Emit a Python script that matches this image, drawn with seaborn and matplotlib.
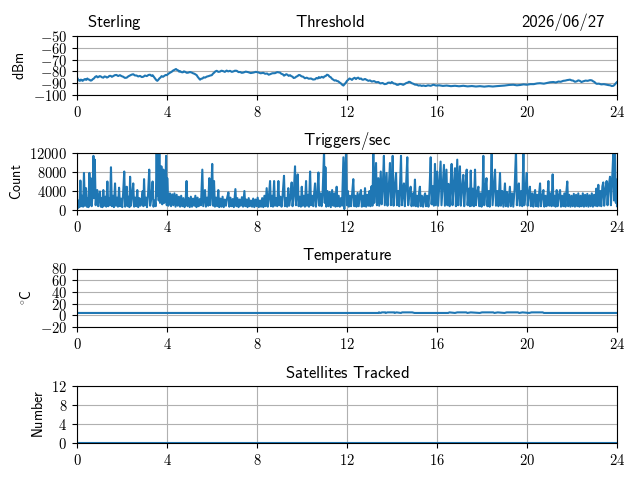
import matplotlib
matplotlib.use("Agg")
import os
import matplotlib.pyplot as plt
from matplotlib.ticker import FuncFormatter, FixedLocator
from matplotlib.font_manager import FontProperties
import seaborn as sns
import pandas as pd

# ---------------- data ----------------
station_name = "Sterling"
date_label = "2026/06/27"
hour_ticks = [0, 4, 8, 12, 16, 20, 24]

threshold_ticks = [-100, -90, -80, -70, -60, -50]
threshold_samples = [
    (0.00, -85.0), (0.03, -86.2), (0.06, -87.0), (0.10, -87.8), (0.13, -88.0), (0.17, -87.0),
    (0.20, -87.2), (0.24, -88.0), (0.28, -87.6), (0.32, -86.8), (0.36, -86.5), (0.41, -87.2),
    (0.46, -86.0), (0.50, -86.8), (0.55, -87.0), (0.60, -87.8), (0.65, -87.6), (0.70, -86.6),
    (0.75, -86.0), (0.81, -84.6), (0.87, -84.0), (0.91, -85.0), (0.95, -84.8), (1.00, -84.0),
    (1.05, -84.2), (1.11, -85.0), (1.17, -85.3), (1.22, -84.3), (1.28, -84.5), (1.33, -85.2),
    (1.39, -84.7), (1.44, -83.8), (1.50, -83.8), (1.55, -84.6), (1.61, -84.0), (1.68, -83.2),
    (1.75, -83.0), (1.83, -83.9), (1.91, -83.2), (1.98, -84.0), (2.05, -84.5), (2.13, -85.5),
    (2.21, -85.3), (2.28, -84.2), (2.35, -83.5), (2.42, -82.8), (2.50, -82.4), (2.57, -83.4),
    (2.65, -83.5), (2.72, -84.3), (2.80, -83.8), (2.88, -84.8), (2.95, -84.5), (3.02, -83.5),
    (3.10, -84.0), (3.18, -83.0), (3.25, -82.8), (3.31, -83.8), (3.36, -83.2), (3.42, -84.8),
    (3.47, -86.0), (3.52, -87.3), (3.57, -88.0), (3.62, -87.0), (3.66, -86.0), (3.71, -85.2),
    (3.76, -84.0), (3.82, -84.6), (3.88, -83.8), (3.94, -83.0), (3.99, -83.2), (4.05, -82.2),
    (4.10, -81.5), (4.16, -80.8), (4.21, -80.3), (4.26, -79.4), (4.30, -79.0), (4.35, -78.4),
    (4.40, -78.0), (4.45, -78.8), (4.50, -79.2), (4.54, -80.2), (4.58, -79.8), (4.64, -80.6),
    (4.70, -80.8), (4.75, -80.0), (4.80, -80.3), (4.88, -81.2), (4.95, -81.0), (5.02, -80.5),
    (5.10, -81.0), (5.16, -81.6), (5.22, -82.0), (5.27, -82.6), (5.32, -83.2), (5.36, -84.5),
    (5.40, -85.5), (5.44, -86.4), (5.47, -87.0), (5.52, -86.2), (5.58, -86.0), (5.63, -85.0),
    (5.69, -85.3), (5.77, -84.4), (5.85, -84.0), (5.92, -83.5), (5.99, -83.2), (6.05, -81.8),
    (6.10, -81.0), (6.15, -80.0), (6.21, -79.5), (6.28, -80.4), (6.35, -80.2), (6.42, -79.4),
    (6.50, -79.8), (6.57, -80.4), (6.65, -79.3), (6.72, -80.0), (6.80, -79.5), (6.88, -80.4),
    (6.95, -80.0), (7.02, -79.4), (7.10, -79.5), (7.18, -80.6), (7.25, -80.5), (7.32, -81.2),
    (7.39, -81.0), (7.50, -80.2), (7.60, -80.6), (7.72, -81.4), (7.84, -81.0), (7.95, -80.4),
    (8.05, -80.8), (8.16, -81.6), (8.28, -81.2), (8.36, -82.0), (8.45, -81.8), (8.52, -82.8),
    (8.58, -82.4), (8.68, -81.6), (8.80, -81.5), (8.90, -80.6), (9.02, -81.0), (9.08, -82.0),
    (9.15, -82.5), (9.20, -83.6), (9.24, -83.2), (9.30, -82.4), (9.35, -82.8), (9.41, -83.8),
    (9.47, -83.2), (9.52, -84.0), (9.58, -84.5), (9.63, -85.6), (9.69, -85.3), (9.75, -84.4),
    (9.80, -84.0), (9.86, -83.0), (9.91, -83.2), (9.98, -84.2), (10.05, -84.5), (10.13, -85.8),
    (10.21, -85.3), (10.30, -86.2), (10.40, -86.0), (10.49, -86.9), (10.58, -86.7), (10.64, -85.6),
    (10.70, -86.0), (10.75, -84.8), (10.80, -85.5), (10.88, -84.6), (10.95, -85.3), (11.00, -84.2),
    (11.05, -84.0), (11.11, -82.8), (11.17, -83.2), (11.22, -84.4), (11.28, -85.0), (11.33, -86.2),
    (11.39, -87.0), (11.45, -87.8), (11.50, -87.5), (11.56, -88.2), (11.61, -88.4), (11.67, -89.4),
    (11.72, -90.0), (11.78, -91.2), (11.84, -92.0), (11.90, -90.6), (11.95, -89.5), (12.00, -88.0),
    (12.06, -87.0), (12.11, -86.0), (12.17, -86.5), (12.22, -87.2), (12.28, -86.0), (12.34, -85.4),
    (12.40, -86.5), (12.45, -85.6), (12.50, -85.3), (12.56, -86.4), (12.62, -86.0), (12.68, -87.0),
    (12.73, -87.0), (12.80, -86.4), (12.88, -87.2), (12.95, -88.0), (13.02, -87.6), (13.10, -88.6),
    (13.20, -88.2), (13.30, -89.2), (13.39, -89.0), (13.48, -90.2), (13.58, -89.8), (13.67, -90.8),
    (13.76, -90.5), (13.82, -89.6), (13.88, -89.5), (13.94, -90.0), (13.99, -89.0), (14.07, -90.2),
    (14.15, -90.5), (14.22, -91.4), (14.28, -91.3), (14.35, -90.6), (14.42, -90.8), (14.50, -91.4),
    (14.58, -90.5), (14.64, -89.8), (14.70, -89.5), (14.75, -88.8), (14.80, -89.0), (14.88, -90.0),
    (14.95, -90.5), (15.02, -91.2), (15.10, -91.3), (15.18, -92.0), (15.25, -91.8), (15.32, -92.3),
    (15.39, -92.0), (15.50, -92.4), (15.60, -91.8), (15.72, -92.2), (15.84, -91.3), (15.96, -92.0),
    (16.10, -91.8), (16.26, -92.3), (16.43, -92.0), (16.62, -92.5), (16.80, -92.2), (16.98, -92.6),
    (17.17, -92.2), (17.36, -92.7), (17.55, -92.4), (17.73, -92.8), (17.91, -92.5), (18.10, -92.9),
    (18.30, -92.5), (18.48, -92.8), (18.65, -92.5), (18.82, -92.3), (19.00, -92.0), (19.20, -91.5),
    (19.39, -91.3), (19.55, -91.8), (19.70, -91.5), (19.85, -91.0), (19.99, -91.3), (20.15, -90.8),
    (20.30, -90.8), (20.45, -90.2), (20.58, -90.0), (20.75, -90.4), (20.90, -89.8), (21.03, -89.2),
    (21.17, -89.0), (21.28, -89.4), (21.40, -88.6), (21.50, -88.8), (21.61, -88.0), (21.70, -87.8),
    (21.78, -87.4), (21.85, -87.2), (21.91, -87.0), (21.98, -87.6), (22.05, -87.8), (22.13, -88.8),
    (22.21, -88.4), (22.28, -87.6), (22.35, -88.0), (22.42, -89.0), (22.50, -88.4), (22.60, -87.8),
    (22.70, -88.0), (22.80, -87.4), (22.88, -87.6), (22.94, -88.4), (23.00, -89.0), (23.05, -90.0),
    (23.10, -90.5), (23.20, -90.4), (23.30, -91.0), (23.42, -90.8), (23.54, -91.3), (23.62, -91.6),
    (23.70, -91.8), (23.77, -92.4), (23.84, -92.2), (23.90, -91.2), (23.95, -90.0), (24.00, -89.0),
]

trigger_ticks = [0, 4000, 8000, 12000]
trigger_samples = [
    (0.00, 1500), (0.04, 400), (0.08, 2000), (0.11, 600), (0.15, 6200), (0.19, 800),
    (0.23, 3000), (0.27, 700), (0.31, 7800), (0.35, 900), (0.40, 4600), (0.44, 700),
    (0.48, 2500), (0.51, 600), (0.55, 7800), (0.58, 1200), (0.61, 6700), (0.65, 800),
    (0.69, 3000), (0.73, 11400), (0.76, 2500), (0.79, 10600), (0.83, 1000), (0.87, 3500),
    (0.90, 4200), (0.94, 800), (0.98, 2800), (1.02, 3900), (1.06, 700), (1.10, 2500),
    (1.13, 600), (1.17, 4200), (1.21, 900), (1.26, 2800), (1.30, 700), (1.35, 6000),
    (1.39, 800), (1.43, 2500), (1.47, 1000), (1.51, 9000), (1.55, 800), (1.60, 3000),
    (1.64, 600), (1.69, 5600), (1.73, 900), (1.78, 2600), (1.82, 700), (1.87, 4700),
    (1.91, 800), (1.96, 2400), (2.01, 600), (2.05, 3500), (2.10, 8100), (2.14, 700),
    (2.18, 2000), (2.21, 4900), (2.25, 800), (2.30, 2800), (2.33, 600), (2.36, 7000),
    (2.40, 900), (2.45, 3000), (2.50, 5600), (2.54, 700), (2.59, 2600), (2.63, 800),
    (2.68, 4200), (2.72, 600), (2.77, 2500), (2.82, 900), (2.87, 2200), (2.92, 4000),
    (2.95, 800), (2.98, 6500), (3.02, 1000), (3.07, 2600), (3.11, 600), (3.16, 3500),
    (3.21, 8500), (3.25, 900), (3.30, 2400), (3.36, 6000), (3.40, 700), (3.45, 2000),
    (3.50, 800), (3.54, 12500), (3.57, 3000), (3.60, 12500), (3.63, 2000), (3.66, 12500),
    (3.69, 1500), (3.72, 5000), (3.75, 9200), (3.79, 1200), (3.84, 8500), (3.88, 1500),
    (3.92, 3000), (3.96, 11400), (3.99, 1000), (4.01, 6700), (4.06, 900), (4.10, 2500),
    (4.13, 3500), (4.18, 800), (4.23, 3300), (4.28, 1000), (4.33, 3500), (4.38, 700),
    (4.43, 3200), (4.48, 900), (4.53, 2800), (4.58, 700), (4.63, 3000), (4.68, 800),
    (4.73, 2500), (4.78, 600), (4.83, 2200), (4.87, 6100), (4.91, 800), (4.96, 2500),
    (5.01, 600), (5.06, 2800), (5.11, 700), (5.16, 2400), (5.21, 900), (5.26, 3000),
    (5.31, 600), (5.36, 2600), (5.41, 800), (5.46, 2300), (5.51, 1000), (5.57, 8500),
    (5.61, 800), (5.65, 2500), (5.69, 4200), (5.73, 700), (5.78, 2600), (5.83, 900),
    (5.88, 6700), (5.92, 1000), (5.96, 3000), (6.01, 9700), (6.05, 900), (6.09, 6100),
    (6.13, 700), (6.18, 2600), (6.23, 800), (6.28, 4200), (6.32, 600), (6.37, 2400),
    (6.42, 700), (6.47, 2800), (6.52, 600), (6.57, 2200), (6.62, 900), (6.67, 2500),
    (6.73, 3700), (6.77, 700), (6.82, 2600), (6.87, 800), (6.92, 2300), (6.97, 600),
    (7.04, 4400), (7.08, 800), (7.13, 2500), (7.18, 600), (7.23, 2200), (7.28, 900),
    (7.33, 2700), (7.38, 700), (7.44, 4000), (7.48, 800), (7.53, 2200), (7.58, 600),
    (7.63, 2500), (7.68, 800), (7.73, 2000), (7.78, 700), (7.83, 2400), (7.88, 600),
    (7.93, 2200), (7.98, 800), (8.03, 2600), (8.08, 600), (8.13, 2000), (8.18, 700),
    (8.23, 2500), (8.28, 600), (8.33, 3000), (8.38, 800), (8.43, 4600), (8.48, 700),
    (8.53, 2800), (8.58, 6100), (8.62, 800), (8.67, 3000), (8.71, 700), (8.76, 6100),
    (8.80, 900), (8.85, 2500), (8.90, 800), (8.95, 6100), (8.99, 1000), (9.04, 2800),
    (9.09, 700), (9.14, 3200), (9.20, 7200), (9.24, 800), (9.30, 2500), (9.34, 700),
    (9.39, 4600), (9.43, 900), (9.49, 2800), (9.54, 5800), (9.58, 800), (9.63, 3000),
    (9.69, 9200), (9.73, 1000), (9.77, 3500), (9.81, 7500), (9.85, 800), (9.90, 2800),
    (9.95, 700), (9.99, 4900), (10.03, 900), (10.08, 3000), (10.13, 700), (10.18, 6100),
    (10.22, 900), (10.27, 3200), (10.31, 700), (10.36, 8100), (10.40, 1000), (10.45, 3000),
    (10.50, 800), (10.54, 3500), (10.58, 5600), (10.62, 700), (10.68, 3200), (10.73, 7900),
    (10.77, 900), (10.82, 3500), (10.87, 800), (10.92, 4000), (10.98, 12500), (11.01, 1500),
    (11.04, 9000), (11.08, 700), (11.13, 4000), (11.18, 800), (11.23, 3800), (11.28, 600),
    (11.34, 4200), (11.39, 900), (11.44, 3500), (11.49, 700), (11.54, 4900), (11.58, 800),
    (11.63, 3000), (11.68, 700), (11.73, 2500), (11.78, 900), (11.84, 11100), (11.88, 200),
    (11.92, 8000), (11.96, 12500), (12.00, 1000), (12.04, 4000), (12.08, 700), (12.13, 3000),
    (12.18, 800), (12.23, 3500), (12.28, 6500), (12.32, 800), (12.37, 3000), (12.42, 700),
    (12.47, 3600), (12.52, 800), (12.57, 3200), (12.62, 4200), (12.66, 700), (12.71, 3000),
    (12.76, 800), (12.80, 4600), (12.85, 700), (12.90, 3200), (12.95, 900), (13.00, 4000),
    (13.04, 800), (13.09, 5000), (13.13, 900), (13.17, 11800), (13.21, 1500), (13.25, 6000),
    (13.29, 9900), (13.33, 1000), (13.39, 6700), (13.43, 900), (13.50, 8100), (13.54, 1200),
    (13.59, 5000), (13.64, 11400), (13.68, 1000), (13.72, 4500), (13.76, 7800), (13.80, 900),
    (13.86, 5000), (13.91, 9900), (13.95, 1000), (14.00, 5000), (14.03, 11400), (14.07, 900),
    (14.12, 4500), (14.18, 7800), (14.22, 1000), (14.27, 4000), (14.32, 800), (14.36, 5500),
    (14.40, 11400), (14.44, 1000), (14.49, 4000), (14.53, 5600), (14.57, 800), (14.62, 4500),
    (14.68, 11100), (14.72, 1000), (14.77, 3500), (14.83, 4900), (14.87, 800), (14.93, 3500),
    (14.97, 900), (15.02, 6400), (15.06, 800), (15.11, 3000), (15.16, 700), (15.20, 3500),
    (15.24, 4900), (15.28, 800), (15.33, 3000), (15.38, 700), (15.43, 2800), (15.47, 3500),
    (15.51, 800), (15.56, 3000), (15.62, 700), (15.67, 4500), (15.72, 11100), (15.76, 1200),
    (15.81, 5000), (15.86, 900), (15.91, 9700), (15.95, 1000), (16.01, 8100), (16.05, 900),
    (16.10, 5000), (16.16, 10200), (16.20, 1000), (16.25, 5000), (16.31, 9500), (16.35, 900),
    (16.42, 8500), (16.46, 1000), (16.51, 5500), (16.56, 800), (16.60, 5000), (16.65, 9700),
    (16.69, 1000), (16.74, 5000), (16.80, 8800), (16.84, 800), (16.90, 10600), (16.94, 1000),
    (16.98, 6000), (17.02, 9200), (17.06, 900), (17.12, 5000), (17.17, 7400), (17.21, 800),
    (17.26, 5000), (17.32, 8500), (17.36, 1000), (17.42, 4500), (17.46, 800), (17.50, 8300),
    (17.54, 900), (17.59, 4500), (17.64, 800), (17.69, 8500), (17.73, 1000), (17.78, 3500),
    (17.84, 4900), (17.88, 800), (17.93, 3500), (17.98, 700), (18.03, 5000), (18.06, 11400),
    (18.10, 1000), (18.15, 4500), (18.20, 6700), (18.24, 800), (18.30, 4000), (18.34, 700),
    (18.39, 5000), (18.43, 11800), (18.47, 1000), (18.52, 4500), (18.58, 8500), (18.62, 900),
    (18.68, 4000), (18.73, 800), (18.80, 7800), (18.84, 900), (18.90, 4000), (18.95, 700),
    (19.02, 5600), (19.06, 800), (19.11, 3800), (19.16, 700), (19.24, 4900), (19.28, 800),
    (19.34, 3500), (19.39, 700), (19.45, 4500), (19.51, 12500), (19.55, 1000), (19.60, 4000),
    (19.64, 5600), (19.68, 900), (19.74, 4000), (19.79, 800), (19.84, 12500), (19.88, 1000),
    (19.94, 4500), (19.99, 7800), (20.03, 900), (20.08, 3500), (20.13, 4900), (20.17, 800),
    (20.23, 3500), (20.28, 700), (20.32, 3000), (20.36, 4200), (20.40, 800), (20.45, 3200),
    (20.50, 700), (20.54, 3500), (20.58, 5600), (20.62, 800), (20.68, 3000), (20.73, 4200),
    (20.77, 700), (20.82, 3000), (20.87, 800), (20.92, 3500), (20.95, 6100), (20.99, 900),
    (21.04, 3500), (21.09, 800), (21.14, 7500), (21.18, 900), (21.23, 3000), (21.27, 700),
    (21.32, 4200), (21.36, 800), (21.42, 3200), (21.47, 4200), (21.51, 700), (21.56, 3000),
    (21.61, 800), (21.66, 3500), (21.71, 700), (21.75, 3800), (21.79, 6000), (21.83, 800),
    (21.88, 3200), (21.93, 700), (21.98, 3000), (22.03, 800), (22.08, 3400), (22.13, 700),
    (22.18, 3200), (22.23, 800), (22.28, 3500), (22.33, 700), (22.38, 3000), (22.43, 800),
    (22.48, 3500), (22.53, 700), (22.58, 3200), (22.63, 800), (22.68, 3400), (22.73, 700),
    (22.78, 3100), (22.83, 800), (22.88, 3500), (22.93, 700), (22.98, 3200), (23.03, 900),
    (23.08, 4500), (23.12, 800), (23.17, 5300), (23.21, 900), (23.26, 4000), (23.30, 800),
    (23.35, 5000), (23.39, 5800), (23.43, 900), (23.49, 4500), (23.54, 6100), (23.58, 1000),
    (23.63, 5000), (23.69, 7000), (23.73, 1000), (23.78, 6000), (23.84, 12500), (23.87, 2000),
    (23.91, 12500), (23.95, 1500), (23.98, 6400), (24.00, 800),
]

temperature_ticks = [-20, 0, 20, 40, 60, 80]
temperature_samples = [
    (0.00, 4), (13.40, 4), (13.42, 5), (13.50, 4), (13.55, 5), (13.70, 5), (13.72, 4),
    (13.80, 5), (14.10, 5), (14.12, 4), (14.20, 5), (14.40, 4), (14.45, 5), (14.90, 5),
    (15.00, 4), (16.50, 4), (16.55, 5), (16.80, 4), (16.90, 5), (17.30, 5), (17.35, 4),
    (17.50, 5), (17.90, 4), (18.00, 5), (18.50, 5), (18.55, 4), (18.70, 5), (19.00, 4),
    (19.10, 5), (19.60, 5), (19.65, 4), (19.80, 5), (20.10, 4), (20.20, 5), (20.70, 5),
    (20.75, 4), (24.00, 4),
]

satellite_ticks = [0, 4, 8, 12]
satellite_samples = [(0.00, 0), (24.00, 0)]

# ---------------- style ----------------
plt.rcParams["mathtext.fontset"] = "cm"
plt.rcParams["axes.unicode_minus"] = True

cmss_path = os.path.join(matplotlib.get_data_path(), "fonts", "ttf", "cmss10.ttf")
cmss = FontProperties(fname=cmss_path, size=12)

def sf(s):
    return r"$\mathsf{" + s.replace(" ", r"\ ") + "}$"

num_fmt = FuncFormatter(lambda v, p: rf"${v:g}$")

fig = plt.figure(figsize=(6.4, 4.8), dpi=100)
W, H = 640.0, 480.0
left, right = 77, 617
panel_px = [(36, 95), (153, 210), (268.5, 327), (386, 443)]
axes = []
for top, bot in panel_px:
    ax = fig.add_axes([left / W, 1 - bot / H, (right - left) / W, (bot - top) / H])
    axes.append(ax)

blue = "#1f77b4"
panels = [
    (threshold_samples, (-100, -50), threshold_ticks, sf("dBm"), None),
    (trigger_samples, (0, 12000), trigger_ticks, sf("Count"), sf("Triggers/sec")),
    (temperature_samples, (-20, 80), temperature_ticks, r"$^\circ\!\mathsf{C}$", sf("Temperature")),
    (satellite_samples, (0, 12), satellite_ticks, sf("Number"), sf("Satellites Tracked")),
]

for ax, (samples, ylim, yticks, ylabel, title) in zip(axes, panels):
    df = pd.DataFrame(samples, columns=["hour", "value"])
    sns.lineplot(data=df, x="hour", y="value", ax=ax, color=blue, linewidth=1.5,
                 sort=False, estimator=None)
    ax.set_xlim(0, 24)
    ax.set_ylim(*ylim)
    ax.xaxis.set_major_locator(FixedLocator(hour_ticks))
    ax.yaxis.set_major_locator(FixedLocator(yticks))
    ax.xaxis.set_major_formatter(num_fmt)
    ax.yaxis.set_major_formatter(num_fmt)
    ax.tick_params(labelsize=10.5)
    ax.grid(True, color="#b0b0b0", linewidth=0.8)
    ax.set_axisbelow(True)
    ax.set_xlabel("")
    ax.set_ylabel(ylabel, fontsize=10)
    if title:
        ax.set_title(title, fontsize=12)

fig.text(114 / W, 1 - 22 / H, sf(station_name), ha="center", va="center", fontsize=12)
fig.text(330 / W, 1 - 22 / H, sf("Threshold"), ha="center", va="center", fontsize=12)
fig.text(563 / W, 1 - 22 / H, date_label, ha="center", va="center", fontproperties=cmss)

fig.savefig("out.png", dpi=100)
